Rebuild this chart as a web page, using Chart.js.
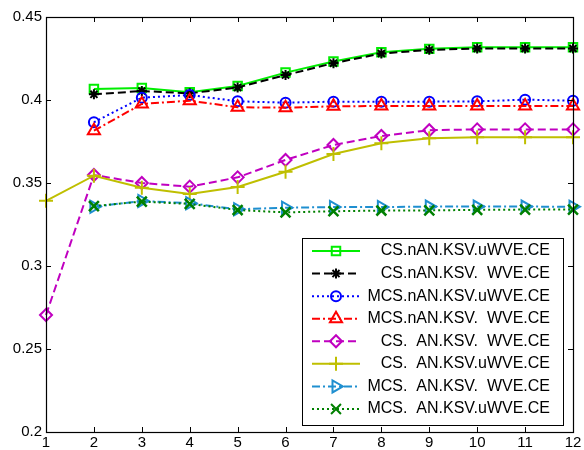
<!DOCTYPE html>
<html>
<head>
<meta charset="utf-8">
<script src="https://cdn.jsdelivr.net/npm/chart.js@4.4.0/dist/chart.umd.min.js"></script>
<style>
  html, body { margin: 0; padding: 0; background: #fff; }
  #wrap { width: 584px; height: 450px; }
</style>
</head>
<body>
<div id="wrap"><canvas id="chart" width="584" height="450"></canvas></div>
<script>
// x categories
var steps = ['1','2','3','4','5','6','7','8','9','10','11','12'];

// series values
var csNanU   = [null, 0.4066, 0.4072, 0.4046, 0.4084, 0.4165, 0.4232, 0.4287, 0.4308, 0.4318, 0.4318, 0.4318];
var csNanW   = [null, 0.4034, 0.4054, 0.4040, 0.4076, 0.4150, 0.4222, 0.4280, 0.4302, 0.4310, 0.4310, 0.4310];
var mcsNanU  = [null, 0.3866, 0.4014, 0.4030, 0.3992, 0.3984, 0.3990, 0.3990, 0.3990, 0.3992, 0.4002, 0.3996];
var mcsNanW  = [null, 0.3815, 0.3976, 0.3996, 0.3956, 0.3954, 0.3962, 0.3964, 0.3964, 0.3964, 0.3964, 0.3964];
var csAnW    = [0.2705, 0.3548, 0.3500, 0.3478, 0.3534, 0.3639, 0.3729, 0.3783, 0.3818, 0.3823, 0.3823, 0.3823];
var csAnU    = [0.3393, 0.3544, 0.3472, 0.3434, 0.3476, 0.3568, 0.3675, 0.3739, 0.3769, 0.3775, 0.3775, 0.3775];
var mcsAnW   = [null, 0.3357, 0.3392, 0.3378, 0.3342, 0.3351, 0.3355, 0.3355, 0.3358, 0.3358, 0.3358, 0.3357];
var mcsAnU   = [null, 0.3361, 0.3388, 0.3374, 0.3337, 0.3323, 0.3330, 0.3334, 0.3335, 0.3338, 0.3340, 0.3340];

var seriesNames = [
  'CS.nAN.KSV.uWVE.CE',
  'CS.nAN.KSV.  WVE.CE',
  'MCS.nAN.KSV.uWVE.CE',
  'MCS.nAN.KSV.  WVE.CE',
  'CS.  AN.KSV.  WVE.CE',
  'CS.  AN.KSV.uWVE.CE',
  'MCS.  AN.KSV.  WVE.CE',
  'MCS.  AN.KSV.uWVE.CE'
];

// y axis ticks
var yTicks = [0.2, 0.25, 0.3, 0.35, 0.4, 0.45];

var FONT = "'Liberation Sans', Arial, Helvetica, sans-serif";

function line(i, data, color, dash, style, radius, rot) {
  return {
    label: seriesNames[i],
    data: data,
    borderColor: color,
    backgroundColor: color,
    borderWidth: 2,
    borderDash: dash,
    tension: 0,
    fill: false,
    pointStyle: style,
    pointRadius: radius,
    pointRotation: rot || 0,
    pointBorderColor: color,
    pointBackgroundColor: 'rgba(0,0,0,0)',
    pointBorderWidth: 2,
    clip: false,
    order: 7 - i
  };
}

var datasets = [
  line(0, csNanU,  '#00ee00', [],            'rect',     6),
  line(1, csNanW,  '#000000', [8, 4],        'star',     5),
  line(2, mcsNanU, '#0000ff', [2, 3],        'circle',   5),
  line(3, mcsNanW, '#ff0000', [8, 3, 2, 3],  'triangle', 7),
  line(4, csAnW,   '#c000c0', [8, 4],        'rectRot',  6),
  line(5, csAnU,   '#bfbf00', [],            'cross',    7),
  line(6, mcsAnW,  '#1f8fd0', [8, 3, 2, 3],  'triangle', 7, 90),
  line(7, mcsAnU,  '#008000', [2, 3],        'crossRot', 7)
];
datasets[7].pointBorderWidth = 2.5;

// MATLAB-like frame with inward ticks
var framePlugin = {
  id: 'frame',
  afterDatasetsDraw: function(chart) {
    var ctx = chart.ctx, a = chart.chartArea;
    var xs = chart.scales.x, ys = chart.scales.y;
    ctx.save();
    ctx.strokeStyle = '#000';
    ctx.lineWidth = 1;
    ctx.setLineDash([]);
    ctx.beginPath();
    for (var i = 0; i < steps.length; i++) {
      var px = Math.round(xs.getPixelForValue(i)) + 0.5;
      ctx.moveTo(px, a.bottom); ctx.lineTo(px, a.bottom - 5);
      ctx.moveTo(px, a.top); ctx.lineTo(px, a.top + 5);
    }
    for (var j = 0; j < yTicks.length; j++) {
      var py = Math.round(ys.getPixelForValue(yTicks[j])) + 0.5;
      ctx.moveTo(a.left, py); ctx.lineTo(a.left + 5, py);
      ctx.moveTo(a.right, py); ctx.lineTo(a.right - 5, py);
    }
    ctx.stroke();
    ctx.lineWidth = 1.2;
    ctx.strokeRect(Math.round(a.left) + 0.5, Math.round(a.top) + 0.5,
      Math.round(a.right - a.left), Math.round(a.bottom - a.top));
    ctx.restore();
  }
};

// MATLAB style legend box inside the axes
var legendPlugin = {
  id: 'matlabLegend',
  afterDraw: function(chart) {
    var ctx = chart.ctx;
    var left = 302, top = 238, right = 563, bottom = 425;
    ctx.save();
    ctx.fillStyle = '#fff';
    ctx.fillRect(left, top, right - left, bottom - top);
    ctx.strokeStyle = '#000';
    ctx.lineWidth = 1;
    ctx.setLineDash([]);
    ctx.strokeRect(left + 0.5, top + 0.5, right - left, bottom - top);
    var rowH = (409 - 251) / 7;
    chart.data.datasets.forEach(function(ds, i) {
      var y = 251 + i * rowH;
      ctx.strokeStyle = ds.borderColor;
      ctx.lineWidth = 2;
      ctx.setLineDash(ds.borderDash);
      ctx.beginPath();
      ctx.moveTo(312, y);
      ctx.lineTo(360, y);
      ctx.stroke();
      ctx.setLineDash([]);
      ctx.fillStyle = 'rgba(0,0,0,0)';
      ctx.strokeStyle = ds.borderColor;
      Chart.helpers.drawPoint(ctx, {
        pointStyle: ds.pointStyle,
        radius: ds.pointRadius,
        rotation: ds.pointRotation,
        borderWidth: ds.pointBorderWidth
      }, 336, y);
      ctx.fillStyle = '#000';
      ctx.font = '16px ' + FONT;
      ctx.textAlign = 'right';
      ctx.textBaseline = 'middle';
      ctx.fillText(ds.label, 550, y);
    });
    ctx.restore();
  }
};

new Chart(document.getElementById('chart'), {
  type: 'line',
  data: { labels: steps, datasets: datasets },
  options: {
    responsive: false,
    animation: false,
    layout: { padding: { left: 0, right: 11, top: 17, bottom: 0 } },
    plugins: { legend: { display: false }, tooltip: { enabled: false } },
    scales: {
      x: {
        type: 'category',
        offset: false,
        grid: { display: false, drawTicks: false },
        border: { display: false },
        ticks: { color: '#000', font: { family: FONT, size: 15 }, padding: 2, maxRotation: 0, autoSkip: false },
        afterFit: function(s) { s.height = 18; }
      },
      y: {
        min: 0.2,
        max: 0.45,
        grid: { display: false, drawTicks: false },
        border: { display: false },
        ticks: {
          stepSize: 0.05,
          color: '#000',
          font: { family: FONT, size: 15 },
          padding: 4,
          callback: function(v) { return String(+v.toFixed(2)); }
        },
        afterFit: function(s) { s.width = 46; }
      }
    }
  },
  plugins: [framePlugin, legendPlugin]
});
</script>
</body>
</html>
